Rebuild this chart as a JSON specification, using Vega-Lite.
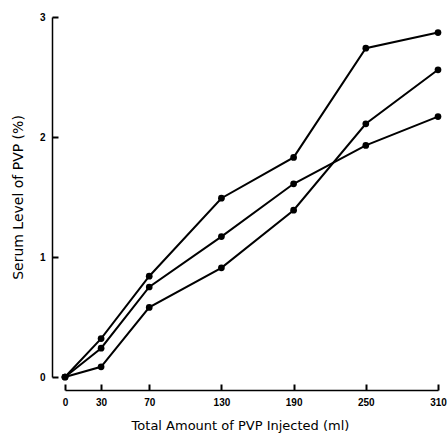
{
  "$schema": "https://vega.github.io/schema/vega-lite/v6.json",
  "autosize": "none",
  "width": 373,
  "height": 360,
  "padding": {"left": 65, "top": 17, "right": 9, "bottom": 64},
  "background": "white",
  "config": {"view": {"stroke": null}, "font": "DejaVu Sans",
    "axis": {"titleColor": "black", "labelColor": "black", "domainColor": "black", "grid": false}},
  "data": {"values": [
    {"series": "A", "amount": 0, "level": 0},
    {"series": "A", "amount": 30, "level": 0.32},
    {"series": "A", "amount": 70, "level": 0.84},
    {"series": "A", "amount": 130, "level": 1.49},
    {"series": "A", "amount": 190, "level": 1.83},
    {"series": "A", "amount": 250, "level": 2.74},
    {"series": "A", "amount": 310, "level": 2.87},
    {"series": "B", "amount": 0, "level": 0},
    {"series": "B", "amount": 30, "level": 0.24},
    {"series": "B", "amount": 70, "level": 0.75},
    {"series": "B", "amount": 130, "level": 1.17},
    {"series": "B", "amount": 190, "level": 1.61},
    {"series": "B", "amount": 250, "level": 1.93},
    {"series": "B", "amount": 310, "level": 2.17},
    {"series": "C", "amount": 0, "level": 0},
    {"series": "C", "amount": 30, "level": 0.085},
    {"series": "C", "amount": 70, "level": 0.58},
    {"series": "C", "amount": 130, "level": 0.91},
    {"series": "C", "amount": 190, "level": 1.39},
    {"series": "C", "amount": 250, "level": 2.11},
    {"series": "C", "amount": 310, "level": 2.56}
  ]},
  "encoding": {
    "x": {"field": "amount", "type": "quantitative",
      "scale": {"domain": [0, 310], "nice": false, "zero": false},
      "axis": {"orient": "bottom", "values": [0, 30, 70, 130, 190, 250, 310], "offset": 13,
        "ticks": true, "tickSize": -6, "tickWidth": 2, "tickColor": "black", "tickOpacity": 1, "labelPadding": 13,
        "domainWidth": 1.5, "labelFont": "Liberation Sans", "labelFontSize": 10, "labelFontWeight": "bold",
        "title": "Total Amount of PVP Injected (ml)", "titleFontSize": 13, "titleFontWeight": "normal",
        "titlePadding": 12, "titleX": 175, "labelFlush": false}},
    "y": {"field": "level", "type": "quantitative",
      "scale": {"domain": [0, 3], "nice": false},
      "axis": {"orient": "left", "values": [0, 1, 2, 3], "offset": 13,
        "ticks": true, "tickSize": -6, "tickWidth": 2, "tickColor": "black", "tickOpacity": 1, "labelPadding": 13,
        "domainWidth": 1.5, "labelFont": "Liberation Sans", "labelFontSize": 10, "labelFontWeight": "bold",
        "title": "Serum Level of PVP (%)", "titleFontSize": 14, "titleFontWeight": "normal",
        "titlePadding": 14, "labelFlush": false}},
    "detail": {"field": "series"}
  },
  "layer": [
    {"mark": {"type": "line", "color": "black", "strokeWidth": 2}},
    {"mark": {"type": "point", "filled": true, "color": "black", "size": 45, "opacity": 1}}
  ]
}
